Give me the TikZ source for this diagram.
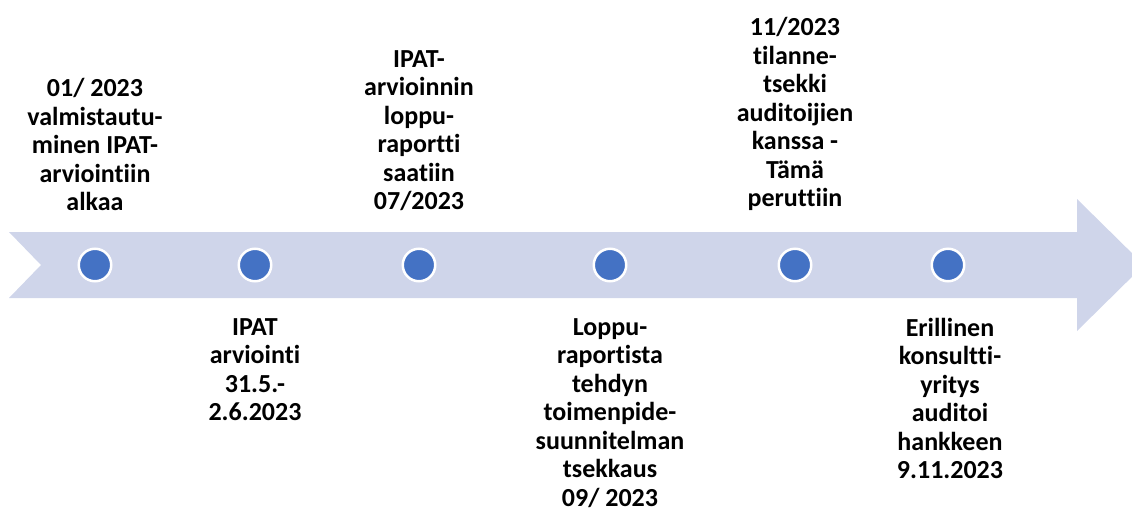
\documentclass[tikz,border=0pt]{standalone}
\usepackage{fontspec}
\setmainfont{Carlito}[RawFeature=-liga]
\usepackage{tikz}
\definecolor{muiten}{RGB}{207,213,234}
\definecolor{chammoc}{RGB}{68,114,196}
\tikzset{
	moc/.style={circle,fill=chammoc,draw=white,line width=2.5pt,minimum size=32.5pt,inner sep=0pt},
	nhan/.style={align=center,inner sep=0pt,font=\fontsize{26}{28.5}\selectfont\bfseries}
}
\begin{document}
\begin{tikzpicture}[x=1pt,y=-1pt]
				\useasboundingbox (0,0) rectangle (1132,514);
				\clip (0,0) rectangle (1132,514);
				%\draw (0,0) grid[step=50] (1132,514);
				\fill[muiten] (9,232) -- (1077,232) -- (1077,199) -- (1144,265) -- (1077,331) -- (1077,298) -- (9,298) -- (41,265) -- cycle;
				\node[moc] (m1) at (95,265) {};
				\node[moc] (m2) at (255,265) {};
				\node[moc] (m3) at (419,265) {};
				\node[moc] (m4) at (610,265) {};
				\node[moc] (m5) at (795,265) {};
				\node[moc] (m6) at (948,265) {};
				\node[nhan,anchor=south] (t1) at (95,211) {01/ 2023\\valmistautu-\\minen IPAT-\\arviointiin\\alkaa};
				\node[nhan,anchor=north] (t2) at (255,318) {IPAT\\arviointi\\31.5.-\\2.6.2023};
				\node[nhan,anchor=south] (t3) at (419,211) {IPAT-\\arvioinnin\\loppu-\\raportti\\saatiin\\07/2023};
				\node[nhan,anchor=north] (t4) at (610,318) {Loppu-\\raportista\\tehdyn\\toimenpide-\\suunnitelman\\tsekkaus\\09/ 2023};
				\node[nhan,anchor=south] (t5) at (795,211) {11/2023\\tilanne-\\tsekki\\auditoijien\\kanssa -\\Tämä\\peruttiin};
				\node[nhan,anchor=north] (t6) at (950,318) {Erillinen\\konsultti-\\yritys\\auditoi\\hankkeen\\9.11.2023};
\end{tikzpicture}
\end{document}
